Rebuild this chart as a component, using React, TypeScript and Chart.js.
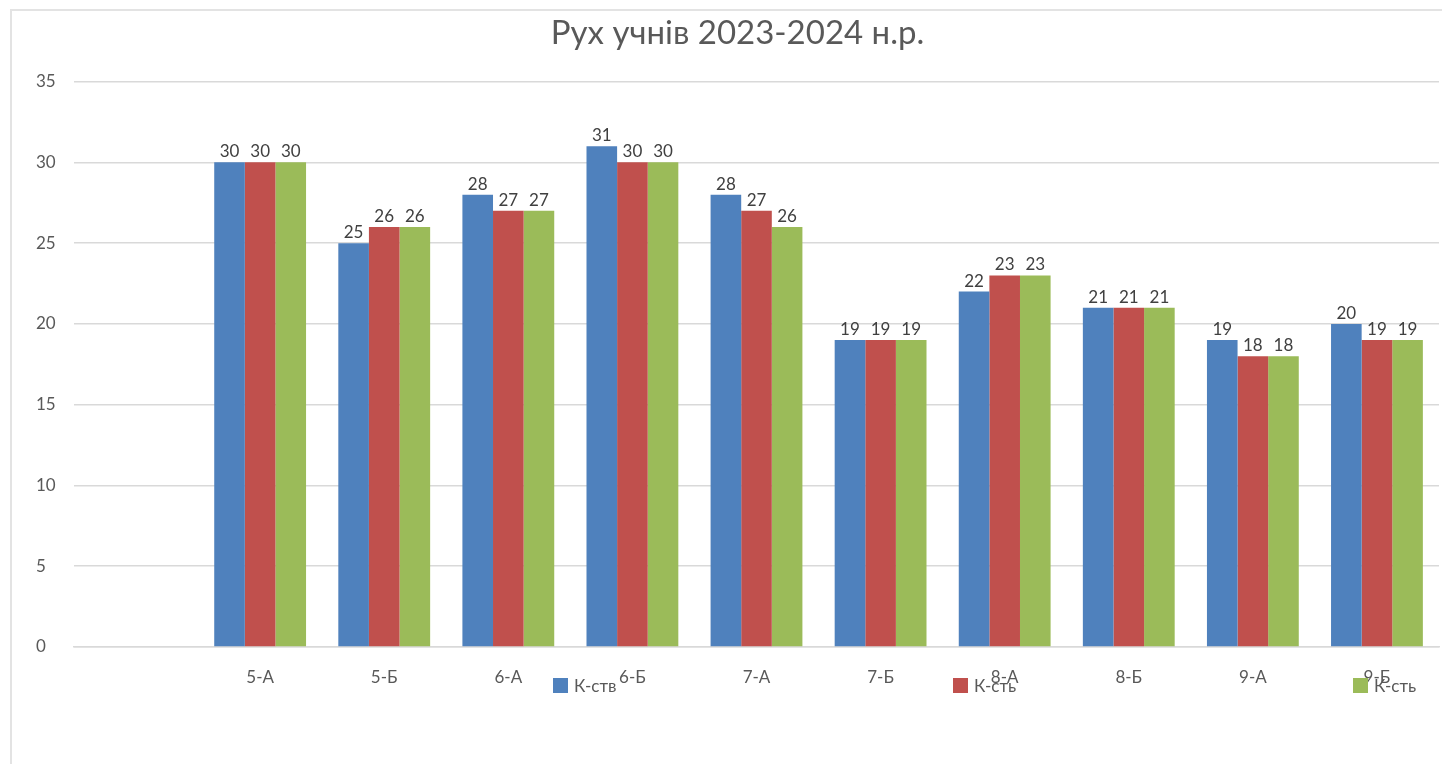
import React, { useEffect, useRef } from 'react';
import { Chart, registerables } from 'chart.js';

Chart.register(...registerables);

const categories = ['', '5-А', '5-Б', '6-А', '6-Б', '7-А', '7-Б', '8-А', '8-Б', '9-А', '9-Б'];
const seriesLabels = ['К-ств', 'К-сть', 'К-сть'];
const seriesColors = ['#4F81BD', '#C0504D', '#9BBB59'];
const series1 = [null, 30, 25, 28, 31, 28, 19, 22, 21, 19, 20];
const series2 = [null, 30, 26, 27, 30, 27, 19, 23, 21, 18, 19];
const series3 = [null, 30, 26, 27, 30, 26, 19, 23, 21, 18, 19];
const yMin = 0;
const yMax = 35;
const yStep = 5;
const titleText = 'Рух учнів 2023-2024 н.р.';

const FONT = 'Lato, "Open Sans", sans-serif';

const framePlugin = {
  id: 'frame',
  beforeDraw(chart: any) {
    const ctx = chart.ctx;
    ctx.save();
    ctx.fillStyle = '#ffffff';
    ctx.fillRect(0, 0, chart.width, chart.height);
    ctx.strokeStyle = '#e3e3e3';
    ctx.lineWidth = 2;
    ctx.beginPath();
    ctx.moveTo(11, chart.height + 5);
    ctx.lineTo(11, 10);
    ctx.lineTo(chart.width + 5, 10);
    ctx.stroke();
    ctx.restore();
  },
};

const dataLabelPlugin = {
  id: 'dataLabels',
  afterDatasetsDraw(chart: any) {
    const ctx = chart.ctx;
    ctx.save();
    ctx.font = `17px ${FONT}`;
    ctx.fillStyle = '#404040';
    ctx.textAlign = 'center';
    ctx.textBaseline = 'bottom';
    chart.data.datasets.forEach((ds: any, i: number) => {
      const meta = chart.getDatasetMeta(i);
      meta.data.forEach((bar: any, j: number) => {
        const v = ds.data[j];
        if (v === null || v === undefined) return;
        ctx.fillText(String(v), bar.x, bar.y - 2);
      });
    });
    ctx.restore();
  },
};

const customLegendPlugin = {
  id: 'customLegend',
  afterDraw(chart: any) {
    const ctx = chart.ctx;
    const starts = [553, 953, 1353];
    const cy = 686;
    ctx.save();
    ctx.font = `17px ${FONT}`;
    ctx.textAlign = 'left';
    ctx.textBaseline = 'middle';
    chart.data.datasets.forEach((ds: any, i: number) => {
      const x = starts[i];
      ctx.fillStyle = ds.backgroundColor;
      ctx.fillRect(x, cy - 8, 15, 15);
      ctx.fillStyle = '#595959';
      ctx.fillText(ds.label, x + 21, cy + 1);
    });
    ctx.restore();
  },
};

export default function App() {
  const canvasRef = useRef<HTMLCanvasElement | null>(null);

  useEffect(() => {
    if (!canvasRef.current) return;
    const chart = new Chart(canvasRef.current, {
      type: 'bar',
      data: {
        labels: categories,
        datasets: [series1, series2, series3].map((d, i) => ({
          label: seriesLabels[i],
          data: d,
          backgroundColor: seriesColors[i],
          borderWidth: 0,
          categoryPercentage: 0.74,
          barPercentage: 1.0,
        })),
      },
      options: {
        animation: false,
        responsive: true,
        maintainAspectRatio: false,
        layout: { padding: { left: 36, right: 3, top: 0, bottom: 77 } },
        plugins: {
          legend: { display: false },
          tooltip: { enabled: false },
          title: {
            display: true,
            text: titleText,
            color: '#595959',
            font: { family: FONT, size: 33, weight: 'normal' },
            padding: { top: 14, bottom: 28 },
          },
        },
        scales: {
          x: {
            grid: { display: false, drawTicks: false },
            border: { display: true, color: '#d9d9d9', width: 1.5 },
            ticks: {
              color: '#595959',
              font: { family: FONT, size: 17 },
              padding: 20,
              maxRotation: 0,
              autoSkip: false,
            },
            afterFit(scale: any) {
              scale.height = 40;
            },
          },
          y: {
            min: yMin,
            max: yMax,
            grid: { color: '#d9d9d9', lineWidth: 1.5, drawTicks: false },
            border: { display: false },
            ticks: {
              stepSize: yStep,
              color: '#595959',
              font: { family: FONT, size: 17 },
              crossAlign: 'far',
              padding: 0,
            },
            afterFit(scale: any) {
              scale.width = 38;
            },
          },
        },
      },
      plugins: [framePlugin, dataLabelPlugin, customLegendPlugin],
    });
    return () => chart.destroy();
  }, []);

  return (
    <div style={{ position: 'fixed', left: 0, top: 0, width: 1442, height: 764, background: '#fff' }}>
      <canvas ref={canvasRef} />
    </div>
  );
}
